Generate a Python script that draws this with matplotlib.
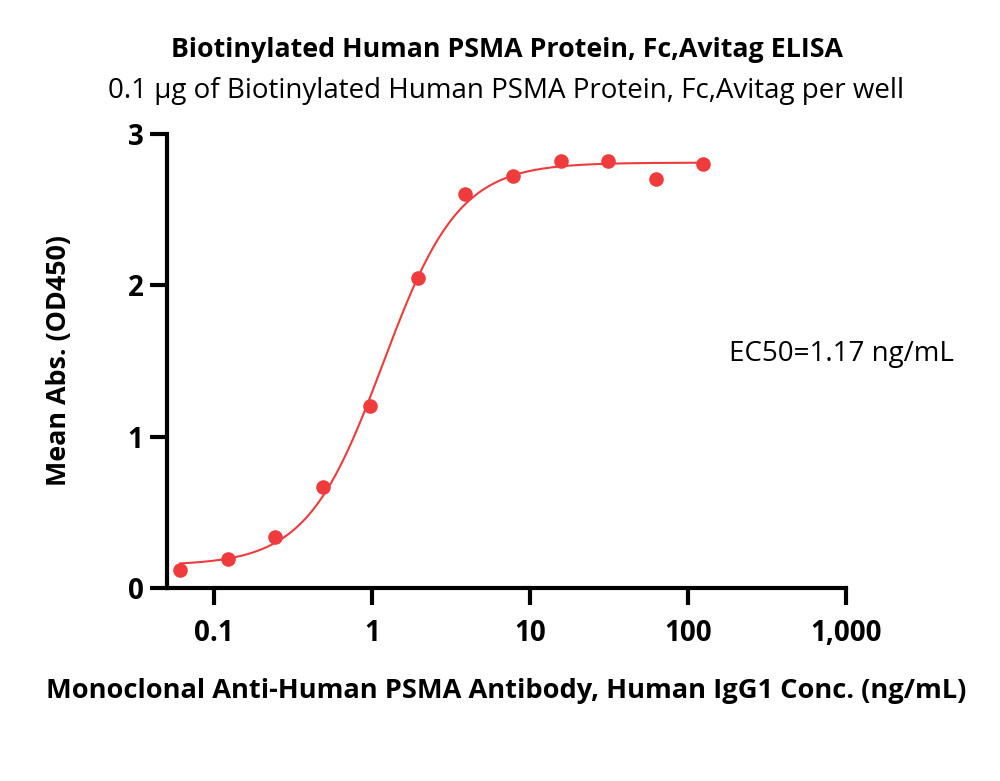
import numpy as np
import matplotlib
matplotlib.use("Agg")
import matplotlib.pyplot as plt
from matplotlib.ticker import FixedLocator, FixedFormatter, NullLocator

# antibody concentration (ng/mL) and mean absorbance
conc = [0.061, 0.122, 0.244, 0.488, 0.977, 1.95, 3.9, 7.8, 15.6, 31.25, 62.5, 125]
od450 = [0.12, 0.19, 0.34, 0.67, 1.20, 2.05, 2.60, 2.72, 2.82, 2.82, 2.70, 2.80]

# 4PL fit parameters
fit_bottom = 0.15
fit_top = 2.81
fit_ec50 = 1.17
fit_hill = 1.8

x_ticks = [0.1, 1, 10, 100, 1000]
x_labels = ["0.1", "1", "10", "100", "1,000"]
y_ticks = [0, 1, 2, 3]

red = "#EF3B3C"

def four_pl(x):
    return fit_bottom + (fit_top - fit_bottom) / (1 + (fit_ec50 / x) ** fit_hill)

def main():
    plt.rcParams["font.family"] = ["Open Sans", "DejaVu Sans"]
    fig = plt.figure(figsize=(10, 7.81), dpi=100)
    ax = fig.add_axes([0.167, 0.247, 0.679, 0.5816])

    xs = np.logspace(np.log10(conc[0]), np.log10(conc[-1]), 300)
    ax.plot(xs, four_pl(xs), color=red, lw=1.5, zorder=2)
    ax.plot(conc, od450, "o", color=red, ms=10.5, mec="none", zorder=3)

    ax.set_xscale("log")
    ax.set_xlim(0.0504, 1000)
    ax.set_ylim(0, 3)
    ax.xaxis.set_major_locator(FixedLocator(x_ticks))
    ax.xaxis.set_major_formatter(FixedFormatter(x_labels))
    ax.xaxis.set_minor_locator(NullLocator())
    ax.set_yticks(y_ticks)

    for side in ("top", "right"):
        ax.spines[side].set_visible(False)
    for side in ("left", "bottom"):
        ax.spines[side].set_linewidth(3)
    ax.tick_params(width=3, length=12, labelsize=20, pad=5)
    ax.tick_params(axis="x", pad=10)
    for lab in ax.get_xticklabels() + ax.get_yticklabels():
        lab.set_fontweight("bold")

    ax.set_xlabel("Monoclonal Anti-Human PSMA Antibody, Human IgG1 Conc. (ng/mL)",
                  fontsize=19.6, fontweight="bold", labelpad=22)
    ax.set_ylabel("Mean Abs. (OD450)", fontsize=19.4, fontweight="bold", labelpad=40)

    fig.text(0.507, 0.936, "Biotinylated Human PSMA Protein, Fc,Avitag ELISA",
             ha="center", va="center", fontsize=19.3, fontweight="bold")
    fig.text(0.506, 0.883, "0.1 \u03bcg of Biotinylated Human PSMA Protein, Fc,Avitag per well",
             ha="center", va="center", fontsize=20)
    fig.text(0.841, 0.547, "EC50=1.17 ng/mL", ha="center", va="center", fontsize=20)

    fig.savefig("out.png", dpi=100)

if __name__ == "__main__":
    main()
